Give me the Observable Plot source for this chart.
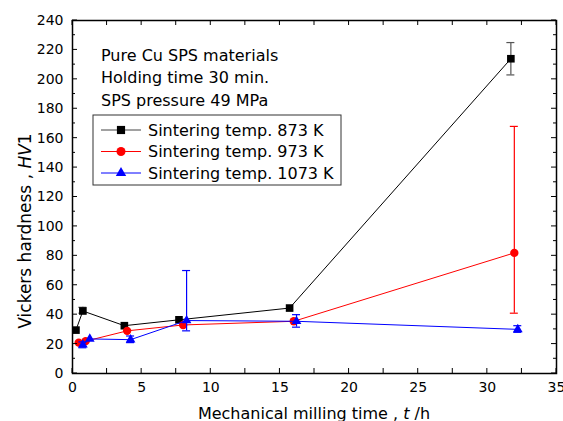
<!DOCTYPE html>
<html><head><meta charset="utf-8">
<script src="https://cdn.jsdelivr.net/npm/d3@7"></script>
<script src="https://cdn.jsdelivr.net/npm/@observablehq/plot@0.6"></script>
<style>body{margin:0;background:#fff} #chart svg{display:block}</style>
</head><body><div id="chart"></div>
<script>
const seriesNames = ["Sintering temp. 873 K", "Sintering temp. 973 K", "Sintering temp. 1073 K"];
const seriesColors = ["#000000", "#ff0000", "#0000ff"];
const errColors = ["#555555", "#ff0000", "#0000ff"];
const seriesSymbols = ["square", "circle", "triangle"];
const symbolR = [4.3, 4.2, 3.6];

const time873 = [0.25, 0.75, 3.75, 7.7, 15.7, 31.7];
const hv873   = [29.5, 42.5, 32.5, 36.5, 44.5, 214];
const lo873   = [null, 41, null, null, null, 203];
const hi873   = [null, 45, null, null, null, 225];

const time973 = [0.45, 0.95, 3.95, 8.0, 16.0, 31.95];
const hv973   = [21, 22, 29, 33, 35.5, 82];
const lo973   = [null, null, null, null, null, 41];
const hi973   = [null, null, null, null, null, 168];

const time1073 = [0.75, 1.25, 4.2, 8.25, 16.2, 32.2];
const hv1073   = [19.5, 23.5, 23, 36, 35.5, 30];
const lo1073   = [17.5, null, 21, 29, 31.5, 28];
const hi1073   = [21.5, null, 25.5, 70, 40, 32.5];

const xTicks = [0, 5, 10, 15, 20, 25, 30, 35];
const xMinorTicks = [2.5, 7.5, 12.5, 17.5, 22.5, 27.5, 32.5];
const yTicks = [0, 20, 40, 60, 80, 100, 120, 140, 160, 180, 200, 220, 240];
const yMinorTicks = [10, 30, 50, 70, 90, 110, 130, 150, 170, 190, 210, 230];
const infoLines = ["Pure Cu SPS materials", "Holding time 30 min.", "SPS pressure 49 MPa"];

const allTimes = [time873, time973, time1073];
const allHV = [hv873, hv973, hv1073];
const allLo = [lo873, lo973, lo1073];
const allHi = [hi873, hi973, hi1073];

const marks = [];
for (let s = 0; s < 3; s++) {
  const rows = allTimes[s].map((t, i) => ({x: t, y: allHV[s][i]}));
  const errs = allTimes[s].map((t, i) => ({x: t, lo: allLo[s][i], hi: allHi[s][i]})).filter(d => d.lo != null);
  marks.push(Plot.line(rows, {x: "x", y: "y", stroke: seriesColors[s], strokeWidth: 1}));
  marks.push(Plot.ruleX(errs, {x: "x", y1: "lo", y2: "hi", stroke: errColors[s], strokeWidth: 1.2}));
  marks.push(Plot.ruleY(errs, {y: "lo", x1: "x", x2: "x", insetLeft: -4, insetRight: -4, stroke: errColors[s], strokeWidth: 1.2}));
  marks.push(Plot.ruleY(errs, {y: "hi", x1: "x", x2: "x", insetLeft: -4, insetRight: -4, stroke: errColors[s], strokeWidth: 1.2}));
  marks.push(Plot.dot(rows, {x: "x", y: "y", symbol: () => seriesSymbols[s], r: symbolR[s], fill: seriesColors[s], stroke: "none"}));
}

marks.push(Plot.axisX({ticks: xTicks, tickSize: 0, tickPadding: 9, label: null, fontSize: 14}));
marks.push(Plot.axisY({ticks: yTicks, tickSize: 0, tickPadding: 9, label: null, fontSize: 14}));
marks.push(Plot.frame({stroke: "black", strokeWidth: 1.5}));

const chart = Plot.plot({
  width: 563, height: 421,
  marginLeft: 72, marginRight: 7, marginTop: 20, marginBottom: 48,
  x: {domain: [0, 35]},
  y: {domain: [0, 240]},
  symbol: {type: "identity"},
  style: {fontFamily: "DejaVu Sans", fontSize: "14px", color: "black", background: "white", overflow: "visible"},
  marks
});
document.getElementById("chart").appendChild(chart);

const svg = d3.select(chart);
const xs = chart.scale("x"), ys = chart.scale("y");
const X = v => xs.apply(v), Y = v => ys.apply(v);
const [x0, x1] = [X(0), X(35)], [y0, y1] = [Y(0), Y(240)];

// inward ticks on all four sides
const tg = svg.append("g").attr("stroke", "black").attr("stroke-width", 1);
xTicks.concat(xMinorTicks).forEach(t => {
  tg.append("line").attr("x1", X(t)).attr("x2", X(t)).attr("y1", y0).attr("y2", y0 - 5);
  tg.append("line").attr("x1", X(t)).attr("x2", X(t)).attr("y1", y1).attr("y2", y1 + 5);
});
yTicks.forEach(t => {
  tg.append("line").attr("x1", x0).attr("x2", x0 + 5).attr("y1", Y(t)).attr("y2", Y(t));
  tg.append("line").attr("x1", x1).attr("x2", x1 - 5).attr("y1", Y(t)).attr("y2", Y(t));
});
yMinorTicks.forEach(t => {
  tg.append("line").attr("x1", x0).attr("x2", x0 + 3).attr("y1", Y(t)).attr("y2", Y(t));
  tg.append("line").attr("x1", x1).attr("x2", x1 - 3).attr("y1", Y(t)).attr("y2", Y(t));
});

const font = "DejaVu Sans";
const g = svg.append("g").attr("text-anchor", "start").attr("font-family", font).attr("fill", "black");
// axis titles
const yt = g.append("text").attr("transform", "translate(25,231) rotate(-90)")
  .attr("text-anchor", "middle").attr("dominant-baseline", "central").attr("font-size", 17);
yt.append("tspan").text("Vickers hardness , ");
yt.append("tspan").attr("font-style", "italic").text("HV");
yt.append("tspan").text("1");
const xt = g.append("text").attr("x", 314).attr("y", 419)
  .attr("text-anchor", "middle").attr("font-size", 16);
xt.append("tspan").text("Mechanical milling time , ");
xt.append("tspan").attr("font-style", "italic").text("t");
xt.append("tspan").text(" /h");

// info text
infoLines.forEach((line, i) => {
  g.append("text").attr("x", 101).attr("y", 55 + i * 22.5).attr("dominant-baseline", "central")
    .attr("text-anchor", "start").attr("font-size", 16).text(line);
});

// legend
g.append("rect").attr("x", 93).attr("y", 115).attr("width", 248).attr("height", 70)
  .attr("fill", "white").attr("stroke", "#333").attr("stroke-width", 1);
const symMap = {square: d3.symbolSquare, circle: d3.symbolCircle, triangle: d3.symbolTriangle};
seriesNames.forEach((name, i) => {
  const cy = 130 + i * 21.5;
  g.append("line").attr("x1", 101).attr("x2", 141).attr("y1", cy).attr("y2", cy)
    .attr("stroke", i === 0 ? "#444" : seriesColors[i]).attr("stroke-width", 1);
  g.append("path").attr("transform", `translate(121,${cy})`)
    .attr("d", d3.symbol(symMap[seriesSymbols[i]], Math.PI * symbolR[i] * symbolR[i] * 1.15)())
    .attr("fill", seriesColors[i]);
  g.append("text").attr("x", 148).attr("y", cy).attr("dominant-baseline", "central")
    .attr("text-anchor", "start").attr("font-size", 16).text(name);
});
</script>
</body></html>
